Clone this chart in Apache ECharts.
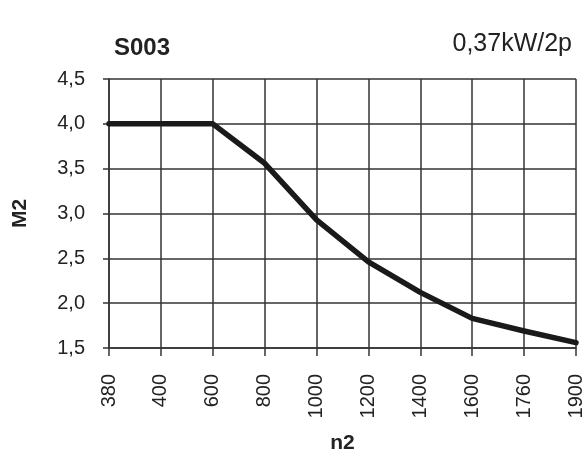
<!DOCTYPE html>
<html><head><meta charset="utf-8">
<script src="https://cdn.jsdelivr.net/npm/echarts@6/dist/echarts.min.js"></script>
<style>html,body{margin:0;padding:0;background:#fff}#c{width:588px;height:457px}</style>
</head><body><div id="c"></div>
<script>
const categories = ['380','400','600','800','1000','1200','1400','1600','1760','1900'];
const m2Values = [4.0, 4.0, 4.0, 3.56, 2.93, 2.46, 2.12, 1.83, 1.69, 1.56];
const titleText = 'S003';
const ratingText = '0,37kW/2p';
const xName = 'n2';
const yName = 'M2';

const font = 'Liberation Sans, Arial, sans-serif';
const chart = echarts.init(document.getElementById('c'), null, {renderer:'canvas'});
chart.setOption({
  animation: false,
  backgroundColor: '#fff',
  title: [
    {text: titleText, left: 109, top: 31, textStyle:{fontFamily:font, fontSize:24, fontWeight:'bold', color:'#222'}},
    {text: ratingText, right: 11, top: 27, textStyle:{fontFamily:font, fontSize:25, fontWeight:'normal', color:'#222'}}
  ],
  grid: {left:109, right:12, top:79, bottom:109, containLabel:false, outerBoundsMode:'none'},
  xAxis: {
    type:'category', data: categories, boundaryGap:false,
    name: xName, nameLocation:'middle', nameGap:85,
    nameTextStyle:{fontFamily:font, fontSize:21, fontWeight:'bold', color:'#222'},
    axisLine:{show:true, lineStyle:{color:'#333', width:1.5}},
    axisTick:{show:true, length:8, alignWithLabel:true, lineStyle:{color:'#333', width:1.5}},
    axisLabel:{rotate:90, margin:26, fontFamily:font, fontSize:20, color:'#222', interval:0},
    splitLine:{show:true, lineStyle:{color:'#333', width:1.5}}
  },
  yAxis: {
    type:'value', min:1.5, max:4.5, interval:0.5,
    name: yName, nameLocation:'middle', nameGap:78, nameRotate:90,
    nameTextStyle:{fontFamily:font, fontSize:21, fontWeight:'bold', color:'#222'},
    axisLine:{show:true, lineStyle:{color:'#333', width:1.5}},
    axisTick:{show:true, length:6, lineStyle:{color:'#333', width:1.5}},
    axisLabel:{margin:24, fontFamily:font, fontSize:20, color:'#222',
      formatter: v => v.toFixed(1).replace('.', ',')},
    splitLine:{show:true, lineStyle:{color:'#333', width:1.5}}
  },
  series: [{
    type:'line', data: m2Values, symbol:'none', smooth:false,
    lineStyle:{color:'#1a1a1a', width:5.5, cap:'round', join:'round'}
  }]
});
</script></body></html>
